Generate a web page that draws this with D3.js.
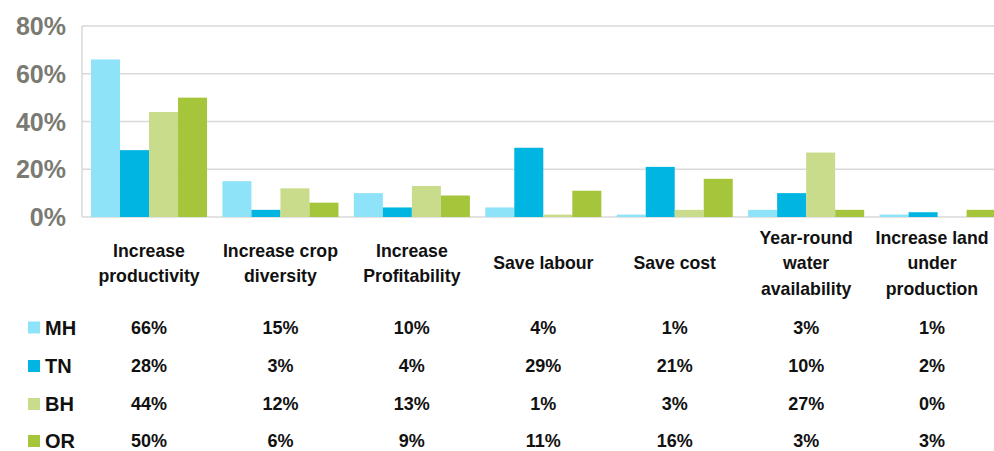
<!DOCTYPE html>
<html>
<head>
<meta charset="utf-8">
<script src="https://cdn.jsdelivr.net/npm/d3@7"></script>
<style>
  html, body { margin: 0; padding: 0; background: #fff; }
  svg { display: block; }
  text { font-family: "Liberation Sans", Arial, sans-serif; font-weight: bold; }
</style>
</head>
<body>
<svg id="chart" width="994" height="451"></svg>
<script>
const categories = [
  ["Increase", "productivity"],
  ["Increase crop", "diversity"],
  ["Increase", "Profitability"],
  ["Save labour"],
  ["Save cost"],
  ["Year-round", "water", "availability"],
  ["Increase land", "under", "production"]
];
const seriesNames = ["MH", "TN", "BH", "OR"];
const seriesColors = ["#8fe3f9", "#00b5e1", "#c9dc8b", "#a5c63b"];
const MH = [66, 15, 10, 4, 1, 3, 1];
const TN = [28, 3, 4, 29, 21, 10, 2];
const BH = [44, 12, 13, 1, 3, 27, 0];
const OR = [50, 6, 9, 11, 16, 3, 3];
const yTicks = [0, 20, 40, 60, 80];

const series = [MH, TN, BH, OR];
const svg = d3.select("#chart");
const W = 994;

const y = d3.scaleLinear().domain([0, 80]).range([217, 26]);
const x = d3.scaleBand().domain(d3.range(categories.length))
  .range([83.3, 1003.3]).paddingInner(0.117).paddingOuter(0.0585);
const xs = d3.scaleBand().domain(d3.range(series.length)).range([0, x.bandwidth()]);

// gridlines
svg.append("g").selectAll("line").data(yTicks).join("line")
  .attr("x1", 82).attr("x2", W)
  .attr("y1", d => y(d)).attr("y2", d => y(d))
  .attr("stroke", "#d9d9d9").attr("stroke-width", 1.5);

// left axis line
svg.append("line").attr("x1", 82).attr("x2", 82)
  .attr("y1", y(80)).attr("y2", y(0))
  .attr("stroke", "#d9d9d9").attr("stroke-width", 1.5);

// y tick labels
svg.append("g").selectAll("text").data(yTicks).join("text")
  .attr("x", 66).attr("y", d => y(d))
  .attr("dy", "0.36em")
  .attr("text-anchor", "end")
  .attr("font-size", 25)
  .attr("fill", "#7a7a72")
  .text(d => d + "%");

// bars
series.forEach((vals, si) => {
  svg.append("g").selectAll("rect").data(vals).join("rect")
    .attr("x", (d, i) => x(i) + xs(si))
    .attr("width", xs.bandwidth())
    .attr("y", d => y(d))
    .attr("height", d => y(0) - y(d))
    .attr("fill", seriesColors[si]);
});

// column centre for table text (kept inside the frame)
const colX = i => Math.min(x(i) + x.bandwidth() / 2, W - 62);

// category labels
const lineH = 25.5;
categories.forEach((lines, i) => {
  const cx = colX(i);
  const t = svg.append("text")
    .attr("text-anchor", "middle")
    .attr("font-size", 17.7)
    .attr("fill", "#111");
  lines.forEach((ln, j) => {
    const cy = 263 + (j - (lines.length - 1) / 2) * lineH;
    t.append("tspan").attr("x", cx).attr("y", cy).attr("dy", "0.36em").text(ln);
  });
});

// data table rows
const rowY = [327.5, 366, 404, 441];
series.forEach((vals, si) => {
  const ry = rowY[si];
  svg.append("rect").attr("x", 28).attr("y", ry - 6).attr("width", 12).attr("height", 12)
    .attr("fill", seriesColors[si]);
  svg.append("text").attr("x", 45).attr("y", ry).attr("dy", "0.36em")
    .attr("font-size", 20).attr("fill", "#111").text(seriesNames[si]);
  svg.append("g").selectAll("text").data(vals).join("text")
    .attr("x", (d, i) => colX(i))
    .attr("y", ry).attr("dy", "0.36em")
    .attr("text-anchor", "middle")
    .attr("font-size", 18)
    .attr("fill", "#111")
    .text(d => d + "%");
});
</script>
</body>
</html>
